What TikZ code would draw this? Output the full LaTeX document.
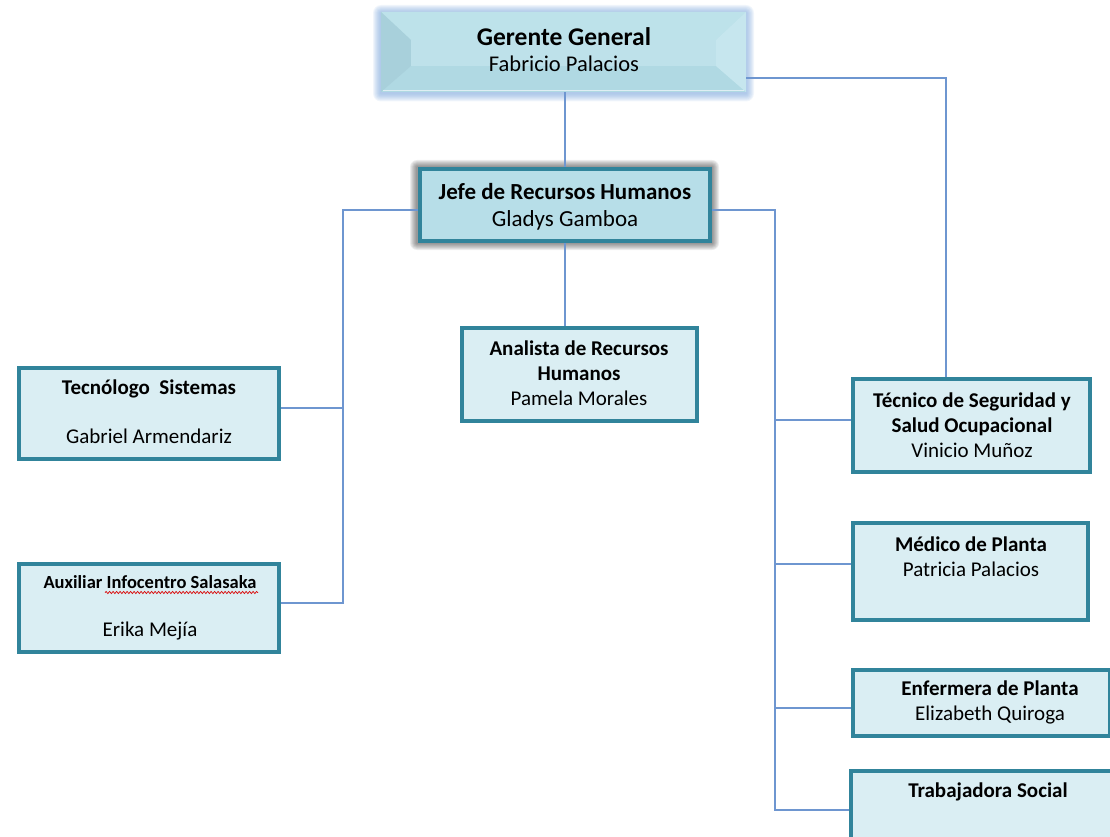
\documentclass[tikz,border=0pt]{standalone}
\usepackage{fontspec}
\setmainfont{Carlito}
\usetikzlibrary{calc,decorations.pathmorphing}

\definecolor{tealborder}{HTML}{31849B}
\definecolor{fillmid}{HTML}{B7DEE8}
\definecolor{filllight}{HTML}{DAEEF3}
\definecolor{linkblue}{HTML}{6E96D0}
\definecolor{glowblue}{HTML}{7FA8DC}
\definecolor{bevelleft}{HTML}{A8D0DB}
\definecolor{bevelright}{HTML}{C6E6EE}
\definecolor{beveltop}{HTML}{BDE2EA}
\definecolor{bevelbottom}{HTML}{B0D9E3}

\begin{document}
\begin{tikzpicture}[x=1pt,y=-1pt,
  orgbox/.style={draw=tealborder, line width=4pt, fill=filllight, rectangle, inner sep=0pt},
  headbox/.style={orgbox, fill=fillmid},
  link/.style={draw=linkblue, line width=1.8pt},
  lbl/.style={align=center, inner sep=0pt, anchor=north, font=\fontsize{21}{25}\selectfont},
  midlbl/.style={align=center, inner sep=0pt, anchor=north, font=\fontsize{23}{27}\selectfont},
  biglbl/.style={align=center, inner sep=0pt, anchor=north, font=\fontsize{25.5}{26.5}\selectfont},
]
\useasboundingbox (0,0) rectangle (1110,837);
\clip (0,0) rectangle (1110,837);

% ---------- top box: bevelled with a soft blue glow ----------
\foreach \e in {8,7,6,5,4,3,2,1}
  \fill[glowblue, opacity=0.11, rounded corners=\e pt]
    (381-\e,12-\e+1) rectangle (746+\e,92+\e+1.5);
\node[rectangle, inner sep=0pt, minimum width=365pt, minimum height=80pt, fill=fillmid] (ger) at (563.5,52) {};
\fill[beveltop]    (381,12) -- (746,12) -- (716,40) -- (411,40) -- cycle;
\fill[bevelbottom] (381,92) -- (746,92) -- (716,66) -- (411,66) -- cycle;
\fill[bevelleft]   (381,12) -- (411,40) -- (411,66) -- (381,92) -- cycle;
\fill[bevelright]  (746,12) -- (716,40) -- (716,66) -- (746,92) -- cycle;
\fill[fillmid!90!white] (411,40) rectangle (716,66);
\draw[white, opacity=0.6, line width=1pt] (383,91) -- (744,91);
\node[biglbl] (ger-t) at (564,27) {\textbf{Gerente General}\\{\fontsize{22.5}{26.5}\selectfont Fabricio Palacios}};

% ---------- second level with drop shadow ----------
\foreach \e in {7,6,5,4,3,2,1}
  \fill[black, opacity=0.07, rounded corners=\e pt]
    (418-\e-1,167-\e) rectangle (712+\e,243+\e);
\node[headbox, minimum width=290pt, minimum height=72pt] (jefe) at (565,205) {};
\node[midlbl] (jefe-t) at (565,183) {\textbf{Jefe de Recursos Humanos}\\Gladys Gamboa};

% ---------- remaining positions ----------
\node[orgbox, minimum width=235pt, minimum height=93pt] (anal) at (579.5,374.5) {};
\node[lbl] (anal-t) at (579,341) {\textbf{Analista de Recursos}\\\textbf{Humanos}\\Pamela Morales};

\node[orgbox, minimum width=260pt, minimum height=91pt] (tecno) at (149,413.5) {};
\node[lbl] (tecno-t) at (149,380) {\textbf{Tecnólogo\ \ Sistemas}\\[24pt]Gabriel Armendariz};

\node[orgbox, minimum width=260pt, minimum height=88pt] (auxi) at (149,608) {};
\node[lbl] (auxi-t) at (150,575) {{\fontsize{18.5}{25}\selectfont\textbf{Auxiliar Infocentro Salasaka}}\\[23.8pt]Erika Mejía};
\draw[red!85!black, line width=0.7pt, decorate, decoration={snake, amplitude=1.1pt, segment length=3.5pt}]
  (105,592.5) -- (258,592.5);

\node[orgbox, minimum width=237pt, minimum height=93pt] (tsso) at (971.5,425.5) {};
\node[lbl] (tsso-t) at (972,393) {\textbf{Técnico de Seguridad y}\\\textbf{Salud Ocupacional}\\Vinicio Muñoz};

\node[orgbox, minimum width=235pt, minimum height=97pt] (medi) at (970.5,571.5) {};
\node[lbl] (medi-t) at (971,537) {\textbf{Médico de Planta}\\Patricia Palacios};

\node[orgbox, minimum width=257pt, minimum height=66pt] (enfe) at (981.5,703) {};
\node[lbl] (enfe-t) at (990,681) {\textbf{Enfermera de Planta}\\Elizabeth Quiroga};

\node[orgbox, minimum width=267pt, minimum height=77pt] (trab) at (984.5,809.5) {};
\node[lbl] (trab-t) at (988,783) {\textbf{Trabajadora Social}};

% ---------- connectors ----------
\coordinate (lt) at (343,210);
\coordinate (rt) at (775,210);
\draw[link] (jefe.north |- ger.south) -- (jefe.north);
\draw[link] ($(ger.east)+(0,26)$) -| ($(tsso.north)+(-25.5,0)$);
\draw[link] (jefe.west |- lt) -- (lt) |- (auxi.east |- 0,603);
\draw[link] (tecno.east |- 0,408) -- (lt |- 0,408);
\draw[link] (jefe.south) -- (jefe.south |- anal.north);
\draw[link] (jefe.east |- rt) -- (rt) |- (trab.west |- 0,810);
\draw[link] (rt |- 0,420) -- (tsso.west |- 0,420);
\draw[link] (rt |- 0,564) -- (medi.west |- 0,564);
\draw[link] (rt |- 0,708) -- (enfe.west |- 0,708);
\end{tikzpicture}
\end{document}
